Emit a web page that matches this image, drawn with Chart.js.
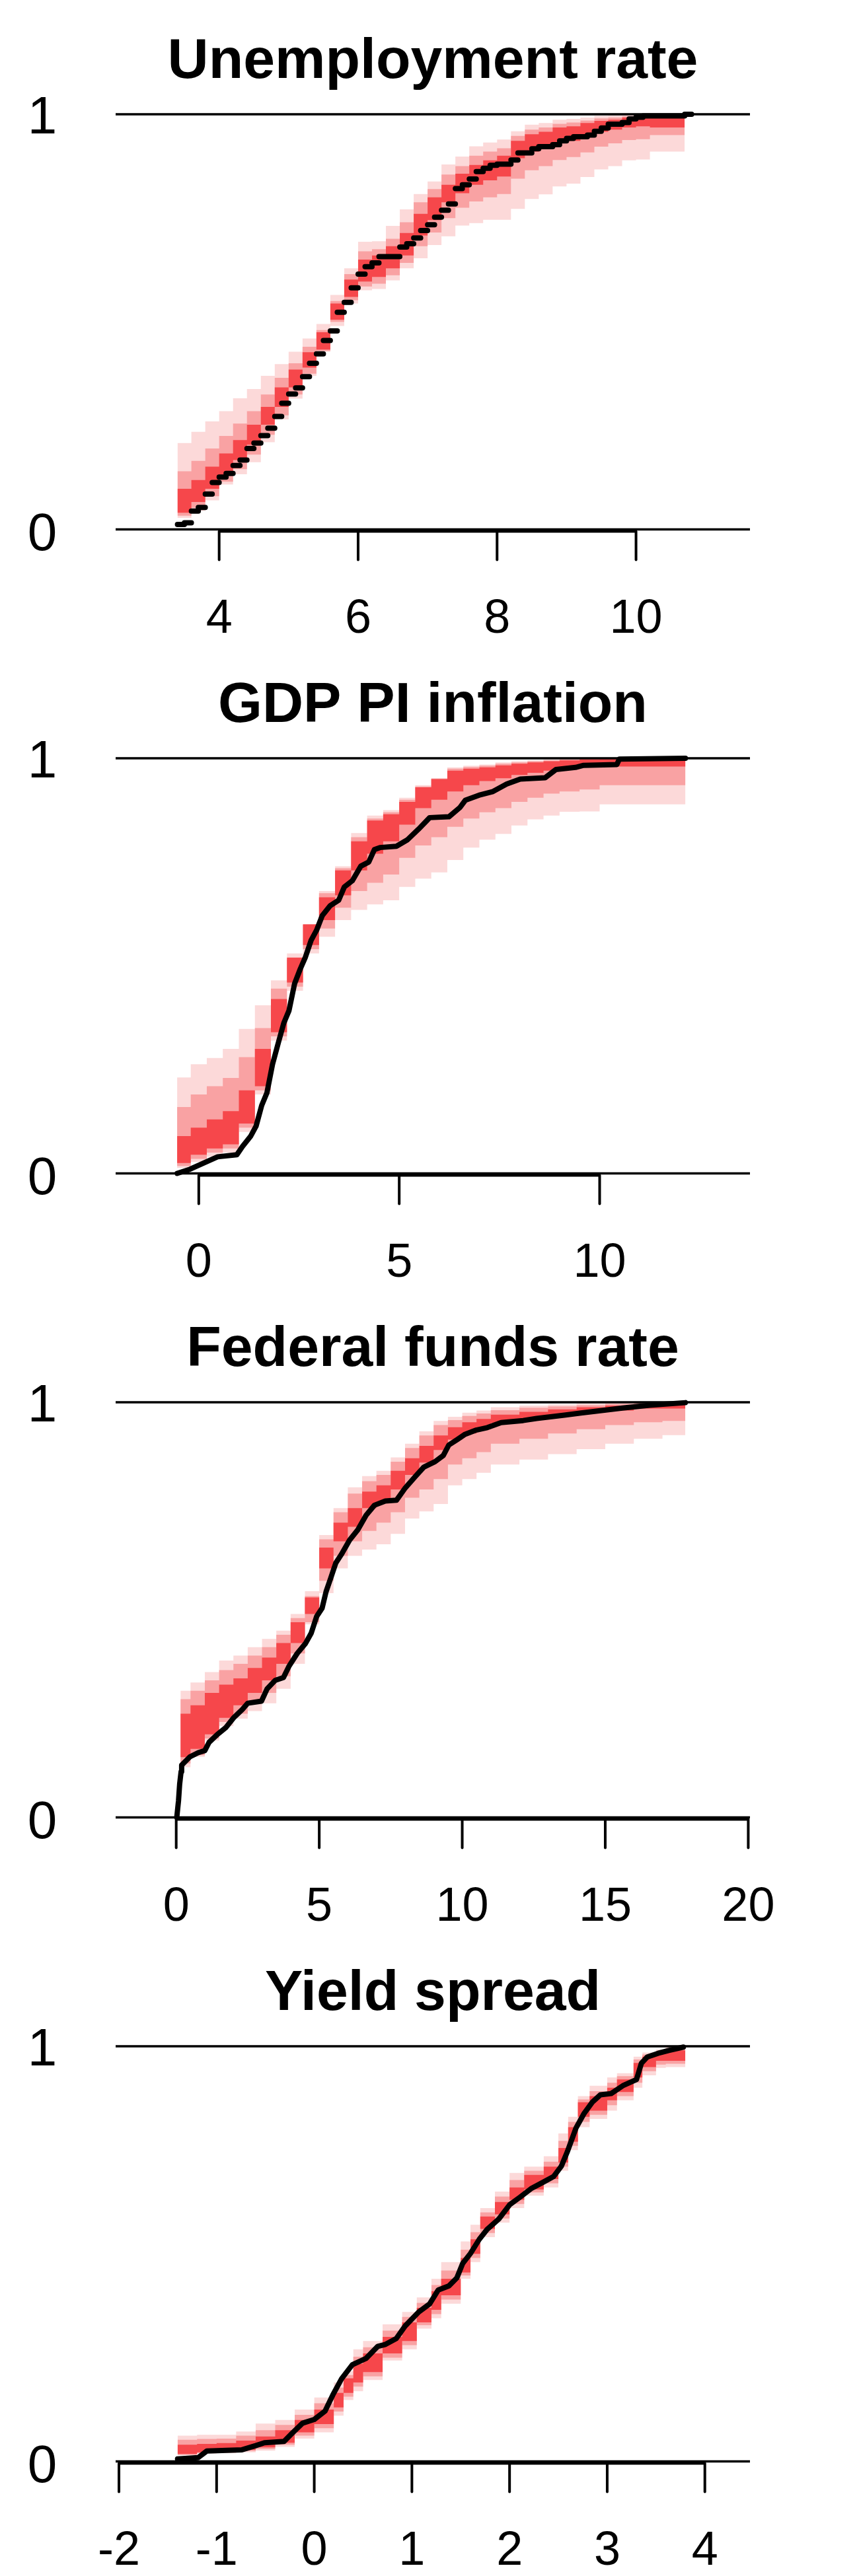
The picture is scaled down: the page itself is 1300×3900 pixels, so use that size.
<!DOCTYPE html>
<html>
<head>
<meta charset="utf-8">
<script src="https://cdn.jsdelivr.net/npm/chart.js@4.4.1/dist/chart.umd.min.js"></script>
<style>
  body { margin: 0; background: #fff; }
  .panel { width: 1300px; height: 975px; }
  canvas { display: block; }
</style>
</head>
<body>
<div class="panel"><canvas id="c1" width="1300" height="975"></canvas></div>
<div class="panel"><canvas id="c2" width="1300" height="975"></canvas></div>
<div class="panel"><canvas id="c3" width="1300" height="975"></canvas></div>
<div class="panel"><canvas id="c4" width="1300" height="975"></canvas></div>
<script>
// ---- Unemployment rate ----
const unempTicks = [4, 6, 8, 10];
const unempX = [3.4,3.5,3.6,3.7,3.8,3.9,4.0,4.1,4.2,4.3,4.4,4.5,4.6,4.7,4.8,4.9,5.0,5.1,5.2,5.3,5.4,5.5,5.6,5.7,5.8,5.9,6.0,6.1,6.2,6.3,6.4,6.5,6.6,6.7,6.8,6.9,7.0,7.1,7.2,7.3,7.4,7.5,7.6,7.7,7.8,7.9,8.0,8.1,8.2,8.3,8.4,8.5,8.6,8.7,8.8,8.9,9.0,9.1,9.2,9.3,9.4,9.5,9.6,9.7,9.8,9.9,10.0,10.1,10.2,10.3,10.4,10.5,10.6,10.7,10.8];
const unempCdf = [0.012,0.016,0.044,0.053,0.085,0.113,0.126,0.135,0.154,0.167,0.195,0.208,0.226,0.244,0.272,0.304,0.326,0.341,0.368,0.400,0.423,0.455,0.478,0.523,0.547,0.582,0.615,0.633,0.642,0.657,0.657,0.657,0.680,0.688,0.702,0.720,0.734,0.752,0.769,0.784,0.821,0.830,0.844,0.862,0.870,0.877,0.880,0.880,0.890,0.907,0.907,0.917,0.922,0.922,0.927,0.936,0.942,0.946,0.946,0.950,0.959,0.967,0.976,0.976,0.980,0.989,0.993,0.996,0.996,0.996,0.996,0.996,0.996,1.000,1.000];
const unempBandX = [3.4,3.6,3.8,4.0,4.2,4.4,4.6,4.8,5.0,5.2,5.4,5.6,5.8,6.0,6.2,6.4,6.6,6.8,7.0,7.2,7.4,7.6,7.8,8.0,8.2,8.4,8.6,8.8,9.0,9.2,9.4,9.6,9.8,10.0,10.2,10.4,10.6,10.7];
const unempOuterLo = [0.010,0.028,0.045,0.070,0.108,0.133,0.162,0.210,0.265,0.315,0.370,0.428,0.490,0.544,0.576,0.579,0.600,0.629,0.653,0.685,0.706,0.732,0.738,0.746,0.746,0.772,0.796,0.807,0.826,0.833,0.849,0.867,0.875,0.889,0.891,0.910,0.910,0.910];
const unempOuterHi = [0.180,0.208,0.235,0.260,0.285,0.316,0.338,0.370,0.398,0.428,0.460,0.495,0.565,0.629,0.693,0.694,0.731,0.771,0.808,0.838,0.879,0.898,0.923,0.932,0.939,0.959,0.975,0.979,0.987,0.989,0.992,0.996,0.997,0.999,1.000,1.000,1.000,1.000];
const unempMidLo = [0.015,0.033,0.052,0.080,0.115,0.145,0.180,0.228,0.275,0.325,0.375,0.430,0.500,0.552,0.585,0.592,0.612,0.642,0.682,0.715,0.750,0.775,0.790,0.800,0.808,0.845,0.865,0.875,0.890,0.897,0.908,0.922,0.930,0.938,0.940,0.950,0.950,0.950];
const unempMidHi = [0.110,0.140,0.165,0.195,0.225,0.255,0.285,0.325,0.365,0.400,0.440,0.480,0.550,0.615,0.670,0.675,0.700,0.740,0.788,0.820,0.855,0.875,0.900,0.910,0.918,0.948,0.963,0.968,0.977,0.980,0.985,0.990,0.992,0.995,0.996,0.997,0.997,0.997];
const unempCoreLo = [0.024,0.040,0.066,0.098,0.130,0.167,0.204,0.252,0.295,0.342,0.390,0.433,0.505,0.560,0.597,0.608,0.629,0.660,0.708,0.745,0.788,0.810,0.830,0.841,0.850,0.894,0.910,0.920,0.931,0.936,0.947,0.958,0.963,0.968,0.971,0.968,0.968,0.968];
const unempCoreHi = [0.077,0.098,0.119,0.151,0.183,0.215,0.252,0.295,0.342,0.385,0.427,0.475,0.544,0.602,0.650,0.660,0.682,0.714,0.760,0.800,0.830,0.857,0.878,0.889,0.900,0.936,0.952,0.958,0.968,0.971,0.979,0.984,0.987,0.992,0.992,0.995,0.995,0.995];

// ---- GDP PI inflation ----
const gdpTicks = [0, 5, 10];
const gdpX = [-0.54,-0.22,0.12,0.47,0.95,1.09,1.29,1.43,1.57,1.70,1.84,1.98,2.12,2.25,2.39,2.53,2.66,2.80,2.94,3.08,3.28,3.49,3.63,3.83,4.04,4.24,4.38,4.52,4.93,5.21,5.48,5.76,6.24,6.51,6.65,6.99,7.34,7.68,8.02,8.64,8.91,9.40,9.60,10.43,10.49,12.14];
const gdpCdf = [0,0.01,0.025,0.04,0.045,0.065,0.089,0.114,0.164,0.194,0.263,0.313,0.362,0.392,0.457,0.492,0.521,0.561,0.586,0.621,0.645,0.658,0.690,0.705,0.740,0.750,0.780,0.785,0.788,0.804,0.829,0.857,0.859,0.881,0.899,0.911,0.920,0.938,0.950,0.953,0.973,0.978,0.983,0.985,0.998,1.0];
const gdpBandX = [-0.54,-0.2,0.2,0.6,1.0,1.4,1.8,2.2,2.6,3.0,3.4,3.8,4.2,4.6,5.0,5.4,5.8,6.2,6.6,7.0,7.4,7.8,8.2,8.6,9.0,9.5,10.0,10.5,11.0,11.5,12.14];
const gdpOuterLo = [0.0,0.013,0.028,0.04,0.05,0.10,0.19,0.32,0.44,0.53,0.57,0.61,0.635,0.648,0.658,0.69,0.71,0.725,0.755,0.785,0.804,0.818,0.838,0.853,0.862,0.871,0.872,0.889,0.889,0.889,0.889];
const gdpOuterHi = [0.204,0.231,0.263,0.278,0.300,0.348,0.405,0.465,0.53,0.60,0.68,0.74,0.82,0.862,0.875,0.905,0.935,0.952,0.978,0.982,0.985,0.99,0.993,0.995,0.997,0.998,1.0,1.0,1.0,1.0,1.0];
const gdpMidLo = [0.005,0.018,0.035,0.05,0.06,0.11,0.20,0.33,0.45,0.54,0.59,0.64,0.68,0.70,0.72,0.76,0.79,0.81,0.835,0.855,0.87,0.88,0.895,0.905,0.915,0.92,0.925,0.935,0.935,0.935,0.935];
const gdpMidHi = [0.14,0.16,0.19,0.21,0.23,0.28,0.35,0.445,0.515,0.60,0.675,0.735,0.81,0.855,0.87,0.90,0.932,0.951,0.975,0.979,0.982,0.987,0.99,0.993,0.995,0.997,0.999,0.999,0.999,0.999,0.999];
const gdpCoreLo = [0.010,0.025,0.045,0.060,0.070,0.120,0.210,0.340,0.460,0.550,0.610,0.670,0.730,0.770,0.800,0.840,0.880,0.900,0.920,0.935,0.945,0.952,0.960,0.965,0.970,0.975,0.978,0.980,0.980,0.980,0.980];
const gdpCoreHi = [0.070,0.090,0.110,0.130,0.150,0.200,0.300,0.420,0.520,0.600,0.665,0.730,0.800,0.850,0.865,0.895,0.930,0.950,0.970,0.975,0.978,0.983,0.987,0.990,0.993,0.995,0.997,0.998,0.998,0.998,0.998];

// ---- Federal funds rate ----
const ffrTicks = [0, 5, 10, 15, 20];
const ffrX = [0.02,0.08,0.12,0.17,0.19,0.48,0.77,1.0,1.15,1.44,1.73,2.02,2.31,2.5,2.98,3.18,3.46,3.75,3.95,4.23,4.52,4.72,4.91,5.10,5.24,5.39,5.58,5.77,6.06,6.35,6.64,6.93,7.31,7.70,7.99,8.37,8.66,9.05,9.34,9.53,9.82,10.1,10.49,10.88,11.36,12.13,12.6,13.57,14.15,14.73,15.6,16.55,17.8];
const ffrCdf = [0.0,0.04,0.08,0.11,0.126,0.146,0.156,0.161,0.181,0.2,0.216,0.241,0.26,0.275,0.28,0.31,0.33,0.337,0.365,0.395,0.419,0.444,0.484,0.504,0.544,0.574,0.613,0.633,0.668,0.693,0.728,0.752,0.762,0.764,0.792,0.822,0.844,0.857,0.872,0.897,0.91,0.923,0.933,0.939,0.951,0.956,0.961,0.969,0.974,0.979,0.986,0.993,0.999];
const ffrBandX = [0.15,0.5,1.0,1.5,2.0,2.5,3.0,3.5,4.0,4.5,5.0,5.5,6.0,6.5,7.0,7.5,8.0,8.5,9.0,9.5,10.0,10.5,11.0,12.0,13.0,14.0,15.0,16.0,17.0,17.8];
const ffrOuterLo = [0.106,0.121,0.146,0.185,0.22,0.238,0.256,0.275,0.31,0.37,0.465,0.54,0.6,0.63,0.645,0.658,0.683,0.72,0.737,0.755,0.8,0.815,0.83,0.85,0.862,0.875,0.887,0.9,0.912,0.921];
const ffrOuterHi = [0.29,0.305,0.325,0.35,0.378,0.39,0.41,0.43,0.45,0.49,0.545,0.68,0.745,0.795,0.822,0.835,0.867,0.9,0.93,0.955,0.965,0.975,0.98,0.988,0.992,0.995,0.997,0.999,1.0,1.0];
const ffrMidLo = [0.115,0.13,0.15,0.19,0.23,0.25,0.275,0.3,0.34,0.395,0.47,0.57,0.63,0.665,0.69,0.71,0.735,0.77,0.79,0.815,0.85,0.865,0.88,0.9,0.912,0.925,0.935,0.945,0.952,0.955];
const ffrMidHi = [0.27,0.285,0.305,0.33,0.355,0.37,0.39,0.41,0.44,0.48,0.533,0.67,0.735,0.78,0.81,0.825,0.857,0.89,0.92,0.945,0.957,0.967,0.973,0.981,0.987,0.99,0.993,0.996,0.998,0.998];
const ffrCoreLo = [0.13,0.145,0.165,0.2,0.24,0.27,0.3,0.33,0.37,0.42,0.49,0.6,0.665,0.7,0.745,0.76,0.79,0.825,0.855,0.885,0.91,0.925,0.935,0.95,0.96,0.968,0.975,0.98,0.985,0.985];
const ffrCoreHi = [0.24,0.25,0.27,0.3,0.32,0.335,0.36,0.385,0.42,0.47,0.53,0.65,0.71,0.745,0.785,0.8,0.835,0.865,0.895,0.92,0.94,0.952,0.96,0.97,0.977,0.983,0.988,0.992,0.995,0.995];

// ---- Yield spread ----
const spreadTicks = [-2, -1, 0, 1, 2, 3, 4];
const spreadX = [-1.40,-1.19,-1.10,-0.74,-0.60,-0.51,-0.31,-0.23,-0.12,0.0,0.11,0.19,0.28,0.39,0.53,0.65,0.73,0.84,0.93,1.07,1.18,1.27,1.38,1.46,1.52,1.60,1.69,1.77,1.89,2.0,2.11,2.22,2.34,2.45,2.53,2.59,2.68,2.76,2.85,2.93,3.04,3.16,3.30,3.35,3.41,3.52,3.63,3.78];
const spreadCdf = [0.006,0.009,0.025,0.028,0.038,0.045,0.048,0.067,0.092,0.101,0.121,0.16,0.199,0.233,0.248,0.277,0.282,0.296,0.326,0.36,0.379,0.413,0.423,0.442,0.477,0.501,0.535,0.559,0.584,0.618,0.637,0.657,0.672,0.686,0.711,0.745,0.803,0.837,0.866,0.883,0.886,0.905,0.92,0.959,0.974,0.983,0.99,0.998];
const spreadBandX = [-1.40,-1.20,-1.00,-0.80,-0.60,-0.40,-0.20,0.00,0.20,0.30,0.40,0.50,0.70,0.90,1.05,1.20,1.30,1.50,1.60,1.70,1.85,2.00,2.15,2.35,2.50,2.60,2.70,2.82,3.00,3.10,3.27,3.36,3.50,3.60,3.80];
const spreadOuterLo = [0.006,0.015,0.019,0.020,0.022,0.026,0.035,0.055,0.070,0.110,0.148,0.169,0.196,0.243,0.270,0.320,0.345,0.380,0.440,0.480,0.540,0.575,0.610,0.640,0.660,0.700,0.750,0.805,0.825,0.845,0.870,0.900,0.930,0.948,0.950];
const spreadOuterHi = [0.046,0.062,0.064,0.064,0.072,0.091,0.100,0.125,0.154,0.190,0.217,0.270,0.290,0.330,0.360,0.395,0.440,0.480,0.530,0.570,0.610,0.650,0.695,0.710,0.735,0.790,0.830,0.880,0.905,0.925,0.935,0.975,0.985,0.992,1.000];
const spreadMidLo = [0.008,0.016,0.020,0.022,0.025,0.030,0.040,0.062,0.080,0.120,0.156,0.180,0.205,0.250,0.280,0.328,0.355,0.390,0.448,0.490,0.550,0.585,0.620,0.648,0.670,0.710,0.760,0.818,0.835,0.858,0.880,0.912,0.940,0.956,0.958];
const spreadMidHi = [0.038,0.052,0.054,0.055,0.062,0.075,0.088,0.112,0.140,0.178,0.208,0.252,0.275,0.315,0.348,0.382,0.425,0.460,0.510,0.552,0.600,0.638,0.678,0.700,0.722,0.772,0.818,0.872,0.892,0.912,0.928,0.968,0.980,0.988,0.995];
const spreadCoreLo = [0.010,0.018,0.022,0.024,0.028,0.034,0.045,0.070,0.090,0.130,0.165,0.190,0.215,0.260,0.290,0.335,0.365,0.400,0.455,0.500,0.560,0.595,0.630,0.655,0.680,0.720,0.770,0.830,0.845,0.870,0.890,0.925,0.950,0.965,0.965];
const spreadCoreHi = [0.030,0.040,0.042,0.044,0.050,0.060,0.075,0.100,0.125,0.165,0.200,0.235,0.260,0.300,0.335,0.370,0.410,0.440,0.490,0.535,0.590,0.625,0.660,0.690,0.710,0.755,0.805,0.865,0.880,0.900,0.920,0.960,0.975,0.985,0.990];

const bandColors = ['#fcd9d9', '#f9a2a3', '#f6474b'];
const FONT = '"Liberation Sans", Arial, Helvetica, sans-serif';

const panels = [
    { id: 'c1', title: 'Unemployment rate', xMin: 2.51, xMax: 11.64, ticks: unempTicks, ex: unempX, ey: unempCdf, dashes: true,
      bx: unempBandX, bands: [[unempOuterLo, unempOuterHi], [unempMidLo, unempMidHi], [unempCoreLo, unempCoreHi]] },
    { id: 'c2', title: 'GDP PI inflation', xMin: -2.074, xMax: 13.75, ticks: gdpTicks, ex: gdpX, ey: gdpCdf, dashes: false,
      bx: gdpBandX, bands: [[gdpOuterLo, gdpOuterHi], [gdpMidLo, gdpMidHi], [gdpCoreLo, gdpCoreHi]] },
    { id: 'c3', title: 'Federal funds rate', xMin: -2.118, xMax: 20.06, ticks: ffrTicks, ex: ffrX, ey: ffrCdf, dashes: false,
      bx: ffrBandX, bands: [[ffrOuterLo, ffrOuterHi], [ffrMidLo, ffrMidHi], [ffrCoreLo, ffrCoreHi]] },
    { id: 'c4', title: 'Yield spread', xMin: -2.034, xMax: 4.462, ticks: spreadTicks, ex: spreadX, ey: spreadCdf, dashes: false,
      bx: spreadBandX, bands: [[spreadOuterLo, spreadOuterHi], [spreadMidLo, spreadMidHi], [spreadCoreLo, spreadCoreHi]] }
];

const pts = (xs, ys) => xs.map((x, i) => ({ x: x, y: ys[i] }));

// ecdf drawn as separate horizontal steps (no verticals)
const stepDashes = (xs, ys) => {
    const out = [];
    for (let i = 0; i < xs.length - 1; i++) {
        out.push({ x: xs[i], y: ys[i] }, { x: xs[i + 1], y: ys[i] }, { x: xs[i + 1], y: null });
    }
    return out;
};

// horizontal lines at 0 and 1, axis, labels, title
const framePlugin = {
    id: 'frame',
    afterDraw(chart, args, opts) {
        const { ctx, chartArea: a, scales: { x, y } } = chart;
        const y0 = y.getPixelForValue(0), y1 = y.getPixelForValue(1);
        ctx.save();
        ctx.strokeStyle = '#000';
        ctx.fillStyle = '#000';
        ctx.lineWidth = 3.5;
        ctx.beginPath();
        ctx.moveTo(a.left, y0); ctx.lineTo(a.right, y0);
        ctx.moveTo(a.left, y1); ctx.lineTo(a.right, y1);
        ctx.stroke();

        const t = opts.ticks;
        ctx.lineWidth = 4;
        ctx.beginPath();
        ctx.moveTo(x.getPixelForValue(t[0]), y0 + 3);
        ctx.lineTo(x.getPixelForValue(t[t.length - 1]), y0 + 3);
        ctx.stroke();
        ctx.lineCap = 'round';
        t.forEach(v => {
            const px = x.getPixelForValue(v);
            ctx.beginPath();
            ctx.moveTo(px, y0 + 3);
            ctx.lineTo(px, y0 + 46);
            ctx.stroke();
        });

        ctx.textAlign = 'center';
        ctx.textBaseline = 'alphabetic';
        ctx.font = '72px ' + FONT;
        t.forEach(v => ctx.fillText(String(v), x.getPixelForValue(v), y0 + 156));
        ctx.font = '80px ' + FONT;
        ctx.fillText('1', 64, y1 + 29);
        ctx.fillText('0', 64, y0 + 31);
        ctx.font = 'bold 86px ' + FONT;
        ctx.fillText(opts.title, (a.left + a.right) / 2, 118);
        ctx.restore();
    }
};

panels.forEach(p => {
    const datasets = [];
    p.bands.forEach(([lo, hi], k) => {
        datasets.push({
            data: pts(p.bx, lo), stepped: 'after', pointRadius: 0, borderWidth: 0,
            borderColor: 'rgba(0,0,0,0)', fill: false, order: 20 - 2 * k
        });
        datasets.push({
            data: pts(p.bx, hi), stepped: 'after', pointRadius: 0, borderWidth: 0,
            borderColor: 'rgba(0,0,0,0)', backgroundColor: bandColors[k], fill: '-1', order: 19 - 2 * k
        });
    });
    datasets.push({
        data: p.dashes ? stepDashes(p.ex, p.ey) : pts(p.ex, p.ey),
        borderColor: '#000', borderWidth: 8, pointRadius: 0, tension: 0,
        borderCapStyle: 'round', borderJoinStyle: 'round',
        fill: false, spanGaps: false, clip: false, order: 0
    });

    new Chart(document.getElementById(p.id), {
        type: 'line',
        data: { datasets: datasets },
        options: {
            responsive: false,
            animation: false,
            devicePixelRatio: 1,
            layout: { padding: { left: 175, right: 165, top: 173, bottom: 173.5 } },
            scales: {
                x: { type: 'linear', min: p.xMin, max: p.xMax, display: false },
                y: { type: 'linear', min: 0, max: 1, display: false }
            },
            plugins: {
                legend: { display: false },
                tooltip: { enabled: false },
                frame: { ticks: p.ticks, title: p.title }
            }
        },
        plugins: [framePlugin]
    });
});
</script>
</body>
</html>
